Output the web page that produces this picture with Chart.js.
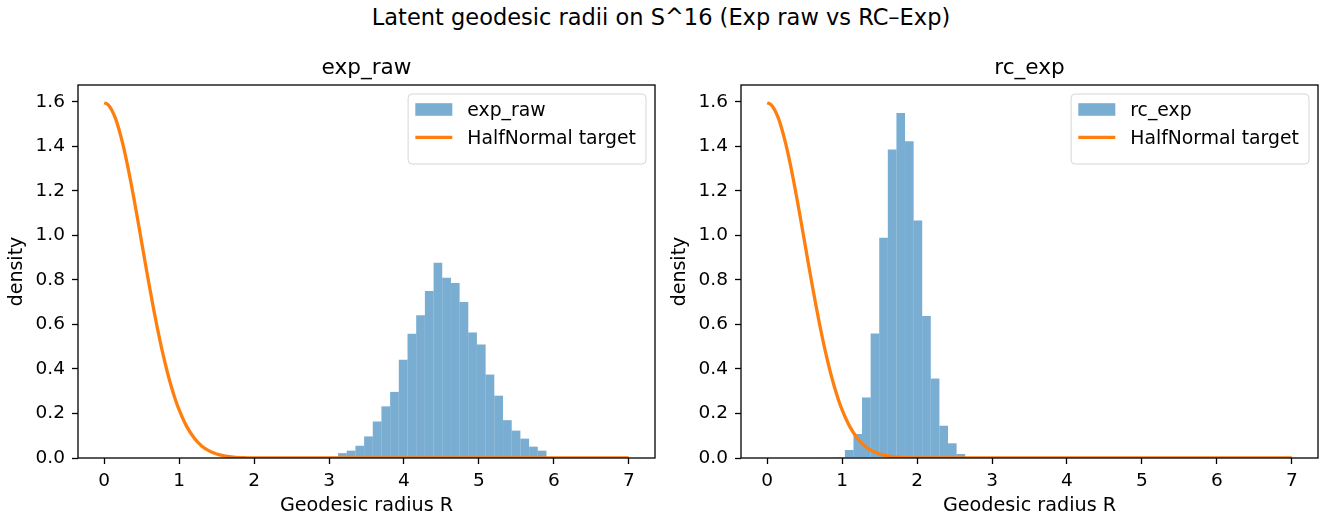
<!DOCTYPE html>
<html lang="en">
<head>
<meta charset="UTF-8">
<title>Latent geodesic radii on S^16</title>
<script src="https://cdn.jsdelivr.net/npm/chart.js@4"></script>
<style>
  body { margin: 0; width: 1322px; height: 518px; background: #fff; position: relative; overflow: hidden; font-family: "DejaVu Sans", sans-serif; }
  .suptitle { position: absolute; left: 0; top: 6px; width: 1322px; text-align: center; font-size: 22.5px; line-height: 22px; color: #000; white-space: nowrap; }
  canvas { position: absolute; top: 0; }
  #rawChart { left: 0; }
  #rcChart { left: 663px; }
</style>
</head>
<body>
<div class="suptitle">Latent geodesic radii on S^16 (Exp raw vs RC–Exp)</div>
<canvas id="rawChart" width="659" height="518"></canvas>
<canvas id="rcChart" width="659" height="518"></canvas>

<script>
// HalfNormal target curve
const targetR = [0, 0.05, 0.1, 0.15, 0.2, 0.25, 0.3, 0.35, 0.4, 0.45, 0.5, 0.55, 0.6, 0.65, 0.7, 0.75, 0.8, 0.85, 0.9, 0.95, 1.0,
                 1.1, 1.2, 1.3, 1.4, 1.5, 1.6, 1.7, 1.8, 1.9, 2.0, 2.5, 3, 4, 5, 6, 7];
const targetDensity = [1.596, 1.588, 1.564, 1.526, 1.473, 1.408, 1.333, 1.249, 1.159, 1.065, 0.968, 0.872, 0.777, 0.686, 0.599, 0.518, 0.444, 0.376, 0.316, 0.262, 0.216,
                       0.142, 0.090, 0.054, 0.032, 0.018, 0.010, 0.005, 0.002, 0.001, 0.0005, 0, 0, 0, 0, 0, 0];

// exp_raw histogram: bin edges + density per bin
const rawEdges = [3.004, 3.120, 3.236, 3.352, 3.468, 3.584, 3.699, 3.815, 3.931, 4.047, 4.163, 4.279, 4.395, 4.511, 4.627, 4.743, 4.858, 4.974, 5.090, 5.206, 5.322, 5.438, 5.554, 5.670, 5.786, 5.902];
const rawDensity = [0.006, 0.022, 0.033, 0.055, 0.097, 0.164, 0.232, 0.297, 0.442, 0.558, 0.641, 0.750, 0.877, 0.810, 0.786, 0.701, 0.564, 0.510, 0.375, 0.280, 0.170, 0.123, 0.087, 0.051, 0.033];

// rc_exp histogram
const rcEdges = [0.692, 0.807, 0.921, 1.036, 1.151, 1.265, 1.380, 1.495, 1.609, 1.724, 1.839, 1.954, 2.068, 2.183, 2.298, 2.413, 2.527, 2.642];
const rcDensity = [0.003, 0.003, 0.004, 0.036, 0.108, 0.272, 0.559, 0.990, 1.386, 1.550, 1.423, 1.067, 0.638, 0.357, 0.145, 0.066, 0.018];

const xTicks = [0, 1, 2, 3, 4, 5, 6, 7];
const yTicks = [0, 0.2, 0.4, 0.6, 0.8, 1.0, 1.2, 1.4, 1.6];

const FONT = '"DejaVu Sans", sans-serif';
Chart.defaults.font.family = FONT;
Chart.defaults.color = '#000';

// axes box, subplot title and legend drawn matplotlib-style
const mplFrame = {
  id: 'mplFrame',
  afterDraw(chart, args, opts) {
    const { ctx, chartArea: a } = chart;
    ctx.save();
    ctx.strokeStyle = '#000';
    ctx.lineWidth = 1.3;
    ctx.strokeRect(a.left, a.top, a.right - a.left, a.bottom - a.top);

    ctx.fillStyle = '#000';
    ctx.font = '21.6px ' + FONT;
    ctx.textAlign = 'center';
    ctx.textBaseline = 'alphabetic';
    ctx.fillText(opts.title, (a.left + a.right) / 2, a.top - 11);

    // legend
    const ds = chart.data.datasets;
    ctx.font = '18.8px ' + FONT;
    const textW = Math.max(...ds.map(d => ctx.measureText(d.label).width));
    const pad = 7.2, handle = 37, gap = 15;
    const w = pad + handle + gap + textW + pad + 3;
    const h = 70;
    const right = a.right - 9, top = a.top + 9, left = right - w;
    ctx.beginPath();
    ctx.roundRect(left, top, w, h, 4);
    ctx.fillStyle = 'rgba(255,255,255,0.8)';
    ctx.fill();
    ctx.strokeStyle = '#d6d6d6';
    ctx.lineWidth = 1;
    ctx.stroke();

    ds.forEach((d, i) => {
      const base = top + 22 + i * 28;
      const hx = left + pad;
      if (d.type === 'bar') {
        ctx.fillStyle = d.backgroundColor;
        ctx.fillRect(hx, base - 12.8, handle, 12.6);
      } else {
        ctx.strokeStyle = d.borderColor;
        ctx.lineWidth = d.borderWidth;
        ctx.beginPath();
        ctx.moveTo(hx, base - 6.6);
        ctx.lineTo(hx + handle, base - 6.6);
        ctx.stroke();
      }
      ctx.fillStyle = '#000';
      ctx.textAlign = 'left';
      ctx.textBaseline = 'alphabetic';
      ctx.fillText(d.label, hx + handle + gap, base);
    });
    ctx.restore();
  }
};

function makeChart(id, title, label, edges, density) {
  const bars = density.map((d, i) => ({ x: (edges[i] + edges[i + 1]) / 2, y: d }));
  const curve = targetR.map((r, i) => ({ x: r, y: targetDensity[i] }));
  const tickGrid = { display: true, offset: false, drawOnChartArea: false, drawTicks: true, tickLength: 6, tickColor: '#000', tickWidth: 1.3 };

  return new Chart(document.getElementById(id), {
    type: 'bar',
    data: {
      datasets: [
        { type: 'bar', label: label, data: bars, backgroundColor: 'rgba(31,119,180,0.6)', borderWidth: 0,
          barPercentage: 1, categoryPercentage: 1, inflateAmount: 0, order: 2 },
        { type: 'line', label: 'HalfNormal target', data: curve, borderColor: '#ff7f0e', borderWidth: 3.3,
          pointRadius: 0, cubicInterpolationMode: 'monotone', fill: false, order: 1 }
      ]
    },
    options: {
      responsive: false,
      animation: false,
      devicePixelRatio: 1,
      layout: { padding: { top: 85, right: 4, left: 0, bottom: 0 } },
      plugins: {
        legend: { display: false },
        tooltip: { enabled: false },
        mplFrame: { title: title }
      },
      scales: {
        x: {
          type: 'linear', min: -0.35, max: 7.35, offset: false,
          afterBuildTicks: s => { s.ticks = xTicks.map(v => ({ value: v })); },
          afterFit: s => { s.height = 60; },
          grid: tickGrid,
          border: { display: false },
          ticks: { font: { size: 18.5 }, padding: 6, color: '#000', maxRotation: 0, autoSkip: false, callback: v => String(v) },
          title: { display: true, text: 'Geodesic radius R', font: { size: 19.2 }, color: '#000', padding: { top: 0, bottom: 0 } }
        },
        y: {
          type: 'linear', min: 0, max: 1.676,
          afterBuildTicks: s => { s.ticks = yTicks.map(v => ({ value: v })); },
          afterFit: s => { s.width = 78; },
          grid: tickGrid,
          border: { display: false },
          ticks: { font: { size: 18.5 }, padding: 7, color: '#000', callback: v => v.toFixed(1) },
          title: { display: true, text: 'density', font: { size: 19 }, color: '#000', padding: { top: 6, bottom: 0 } }
        }
      }
    },
    plugins: [mplFrame]
  });
}

makeChart('rawChart', 'exp_raw', 'exp_raw', rawEdges, rawDensity);
makeChart('rcChart', 'rc_exp', 'rc_exp', rcEdges, rcDensity);
</script>
</body>
</html>
